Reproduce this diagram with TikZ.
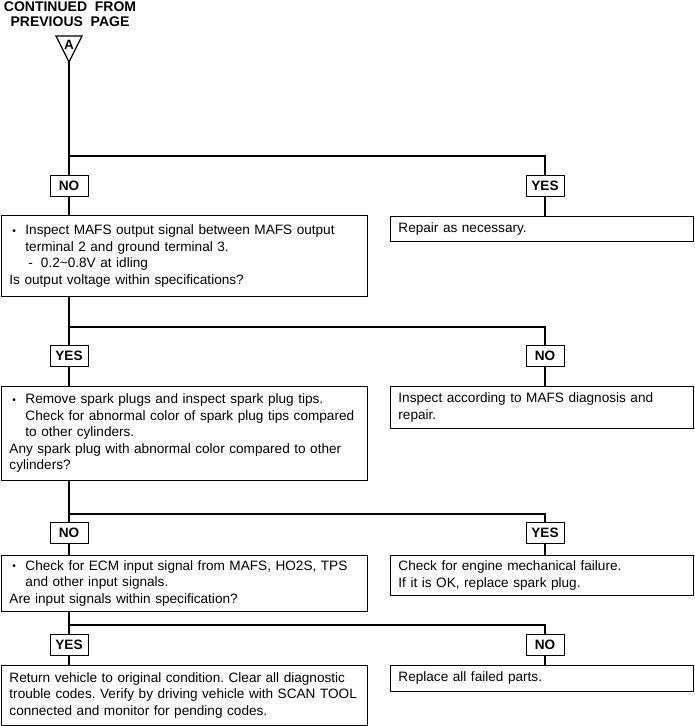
\documentclass[tikz,border=0pt]{standalone}
\usepackage{fontspec}
\setmainfont{Liberation Sans}
\frenchspacing
\newcommand\fs{\fontsize{13.6}{16.5}\selectfont}
\newcommand\bul{\makebox[16pt][l]{\hspace{3pt}\raisebox{0.5pt}{\scalebox{0.75}{\textbullet}}}}
\newcommand\ind{\hspace*{16pt}}
\begin{document}
\begin{tikzpicture}[x=1pt,y=-1pt,
  box/.style={draw, line width=0.9pt, anchor=north west, inner xsep=8pt, inner ysep=0pt, align=left, font=\fs},
  lbl/.style={draw, line width=0.9pt, minimum width=38pt, minimum height=21pt, inner sep=0pt, font=\fs\bfseries, anchor=north},
  ln/.style={line width=1.2pt}]
\useasboundingbox (0,0) rectangle (694,726);
% title and connector triangle
\node (title) [anchor=north, align=center, font=\fontsize{14}{15}\selectfont\bfseries, inner sep=0pt] at (70,1.2) {CONTINUED\ \ FROM\\PREVIOUS\ \ PAGE};
\draw[line width=1.2pt, line join=miter] (56,36) -- (82,36) -- (69,62) -- cycle;
\node (A) [font=\fontsize{13.5}{13.5}\selectfont\bfseries, inner sep=0pt] at (69,45) {A};
\coordinate (apex) at (69,62);
% label boxes
\node (no1) [lbl] at (69,175) {NO};
\node (yes1) [lbl] at (545,175) {YES};
\node (yes2) [lbl] at (69,345) {YES};
\node (no2) [lbl] at (545,345) {NO};
\node (no3) [lbl] at (69,522) {NO};
\node (yes3) [lbl] at (545,522) {YES};
\node (yes4) [lbl] at (69,634) {YES};
\node (no4) [lbl] at (545,634) {NO};
% left boxes
\node (b1) [box, text width=350pt, minimum height=81pt] at (1,215) {\bul Inspect MAFS output signal between MAFS output\\
\ind terminal 2 and ground terminal 3.\\
\hspace*{19pt}-\hspace{8pt}0.2\textasciitilde 0.8V at idling\\
Is output voltage within specifications?};
\node (b2) [box, text width=350pt, minimum height=94pt] at (1,386) {\bul Remove spark plugs and inspect spark plug tips.\\
\ind Check for abnormal color of spark plug tips compared\\
\ind to other cylinders.\\
Any spark plug with abnormal color compared to other\\
cylinders?};
\node (b3) [box, text width=350pt, minimum height=56pt] at (1,555) {\bul Check for ECM input signal from MAFS, HO2S, TPS\\
\ind and other input signals.\\
Are input signals within specification?};
\node (b4) [box, text width=350pt, minimum height=60pt] at (1,665) {Return vehicle to original condition. Clear all diagnostic\\
\mbox{trouble codes. Verify by driving vehicle with SCAN TOOL}\\
connected and monitor for pending codes.};
% right boxes
\node (r1) [box, text width=287pt, minimum height=25pt] at (390,216) {Repair as necessary.};
\node (r2) [box, text width=287pt, minimum height=42pt] at (390,386) {Inspect according to MAFS diagnosis and\\repair.};
\node (r3) [box, text width=287pt, minimum height=40pt] at (390,555) {Check for engine mechanical failure.\\If it is OK, replace spark plug.};
\node (r4) [box, text width=287pt, minimum height=26pt] at (390,665) {Replace all failed parts.};
% split points
\coordinate (s1) at (69,156);
\coordinate (s2) at (69,327);
\coordinate (s3) at (69,514);
\coordinate (s4) at (69,625);
% connectors
\draw[ln] (apex) -- (no1.north);
\draw[ln] (s1) -| (yes1.north);
\draw[ln] (no1.south) -- (no1.south |- b1.north);
\draw[ln] (yes1.south) -- (yes1.south |- r1.north);
\draw[ln] (no1.south |- b1.south) -- (yes2.north);
\draw[ln] (s2) -| (no2.north);
\draw[ln] (yes2.south) -- (yes2.south |- b2.north);
\draw[ln] (no2.south) -- (no2.south |- r2.north);
\draw[ln] (no1.south |- b2.south) -- (no3.north);
\draw[ln] (s3) -| (yes3.north);
\draw[ln] (no3.south) -- (no3.south |- b3.north);
\draw[ln] (yes3.south) -- (yes3.south |- r3.north);
\draw[ln] (no1.south |- b3.south) -- (yes4.north);
\draw[ln] (s4) -| (no4.north);
\draw[ln] (yes4.south) -- (yes4.south |- b4.north);
\draw[ln] (no4.south) -- (no4.south |- r4.north);
\end{tikzpicture}
\end{document}
